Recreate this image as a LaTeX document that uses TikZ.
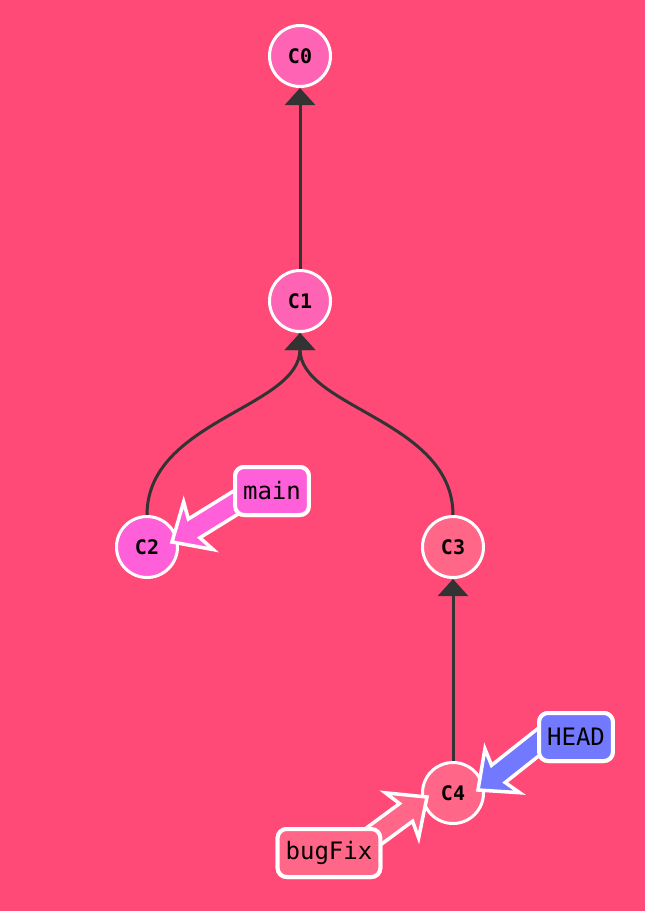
\documentclass[tikz,border=0pt]{standalone}
\usepackage{fontspec}
\setmonofont{DejaVu Sans Mono}
\usetikzlibrary{arrows.meta,calc}
\definecolor{bg}{HTML}{FF4A78}
\definecolor{pinkA}{HTML}{FF64B4}
\definecolor{magA}{HTML}{FF60DA}
\definecolor{redA}{HTML}{FF6688}
\definecolor{blueA}{HTML}{7379FF}
\definecolor{edgec}{HTML}{333333}
\newcommand\fatarr[3]{%
  \draw[fill=#1, draw=white, line width=3.5pt, line join=miter]
    ($(#2)!11pt!90:(#3)$) --
    ($(#3)!26pt!(#2)!11pt!90:(#3)$) --
    ($(#3)!31pt!(#2)!28pt!90:(#3)$) --
    (#3) --
    ($(#3)!31pt!(#2)!28pt!-90:(#3)$) --
    ($(#3)!26pt!(#2)!11pt!-90:(#3)$) --
    ($(#2)!11pt!-90:(#3)$) -- cycle;}
\begin{document}
\begin{tikzpicture}[x=1pt,y=-1pt,
  commit/.style={circle, draw=white, line width=3pt, minimum size=61pt, inner sep=0pt,
    font=\ttfamily\bfseries\fontsize{20}{20}\selectfont},
  lbl/.style={rounded corners=9pt, draw=white, line width=4pt, minimum height=48pt,
    inner xsep=8pt, inner ysep=0pt, font=\ttfamily\fontsize{24}{24}\selectfont},
  edge/.style={draw=edgec, line width=3pt, -{Triangle[width=30pt,length=17pt]}}]
\fill[bg] (0,0) rectangle (645,911);
\useasboundingbox (0,0) rectangle (645,911);

\node[commit, fill=pinkA] (C0) at (300,56) {C0};
\node[commit, fill=pinkA] (C1) at (300,301) {C1};
\node[commit, fill=magA] (C2) at (147,547) {C2};
\node[commit, fill=redA] (C3) at (453,547) {C3};
\node[commit, fill=redA] (C4) at (453,793) {C4};

\draw[edge] (C1) -- (C0);
\draw[edge] (C2.north) .. controls +(0,-95) and +(0,75) .. (C1.south);
\draw[edge] (C3.north) .. controls +(0,-95) and +(0,75) .. (C1.south);
\draw[edge] (C4) -- (C3);

\node[lbl, fill=magA] (main) at (272,491) {main};
\node[lbl, fill=blueA] (head) at (576,737) {HEAD};
\node[lbl, fill=redA] (bugfix) at (329,853) {bugFix};

\coordinate (maintip) at ($(C2)+(25,-5)$);
\coordinate (maintail) at ($(main)+(-32,9)$);
\coordinate (headtip) at ($(C4)+(25,-3)$);
\coordinate (headtail) at ($(head)+(-26,-4)$);
\coordinate (bugtip) at ($(C4)+(-26,4)$);
\coordinate (bugtail) at ($(bugfix)+(26,-3)$);

\fatarr{magA}{maintail}{maintip}
\fatarr{blueA}{headtail}{headtip}
\fatarr{redA}{bugtail}{bugtip}

\node[lbl, fill=magA] at (main) {main};
\node[lbl, fill=blueA] at (head) {HEAD};
\node[lbl, fill=redA] at (bugfix) {bugFix};
\end{tikzpicture}
\end{document}
